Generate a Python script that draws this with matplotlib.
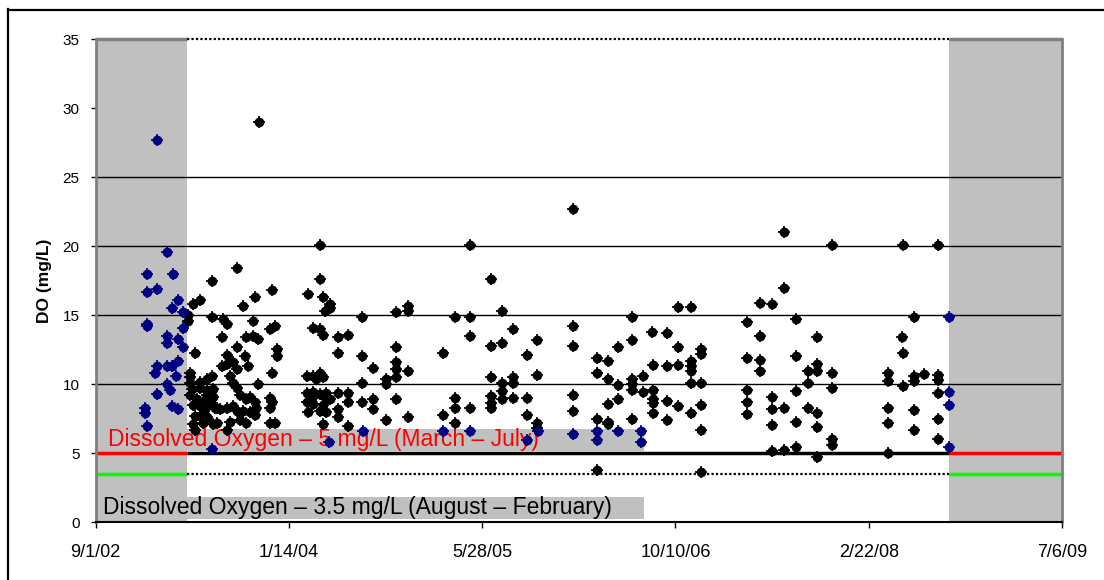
import matplotlib
matplotlib.use("Agg")
import matplotlib.pyplot as plt
from matplotlib.patches import Rectangle
from matplotlib.lines import Line2D
import numpy as np
import pandas as pd

plt.rcParams['font.family'] = ['Liberation Sans', 'DejaVu Sans']

# ---- data -------------------------------------------------------------
start_date = pd.Timestamp('2002-09-01')
end_date = pd.Timestamp('2009-07-06')

# sampling days (days after 9/1/02) and dissolved oxygen (mg/L)
blue_days = [158, 184, 132, 199, 132, 158, 214, 197, 225, 132, 132, 227, 184, 184,
             214, 227, 158, 153, 184, 197, 214, 209, 184, 192, 158, 128, 128, 197,
             214, 132, 300, 603, 692, 899, 968, 1115, 1144, 1235, 1296, 1296, 1351,
             1412, 1412, 2207, 2207, 2207, 2207]
blue_do = [27.7, 19.6, 18.0, 18.0, 16.7, 16.9, 16.1, 15.5, 15.2, 14.4, 14.2, 14.1, 13.5, 13.0,
           13.3, 12.7, 11.3, 10.85, 11.3, 11.3, 11.7, 10.6, 10.0, 9.6, 9.3, 8.3, 7.9, 8.4,
           8.2, 7.0, 5.3, 5.8, 6.65, 6.65, 6.65, 6.0, 6.65, 6.4, 6.65, 6.0, 6.65,
           6.65, 5.85, 14.85, 9.47, 8.5, 5.44]

black_days = [
    # 2003 - 2004
    423, 365, 300, 455, 412, 270, 252, 382, 239, 239, 300, 330, 339, 408, 464, 451,
    326, 390, 408, 420, 365, 468, 468, 257, 339, 386, 326, 339, 356, 365, 395, 347,
    455, 244, 244, 244, 287, 300, 270, 420, 248, 270, 287, 304, 356, 365, 244, 261,
    287, 304, 278, 373, 390, 399, 412, 451, 455, 451, 252, 270, 296, 313, 283, 309,
    321, 339, 356, 365, 382, 399, 416, 412, 257, 270, 287, 252, 278, 304, 313, 347,
    373, 390, 451, 464, 257, 339,
    # 2004 - 2005
    580, 968, 580, 550, 589, 606, 593, 606, 688, 778, 808, 808, 929, 968, 563, 580,
    589, 627, 653, 968, 778, 627, 688, 899, 718, 778, 778, 778, 808, 546, 563, 580,
    571, 589, 752, 752, 688, 546, 563, 580, 597, 559, 597, 627, 653, 546, 563, 589,
    606, 550, 580, 597, 627, 627, 653, 688, 718, 718, 778, 899, 929, 929, 968, 589,
    653, 752, 808, 929,
    # 2005 - 2007
    1234, 1024, 1050, 1080, 1024, 1050, 1143, 1115, 1235, 1235, 1296, 1296, 1326, 1326,
    1351, 1388, 1388, 1438, 1477, 1442, 1477, 1024, 1050, 1050, 1050, 1080, 1080, 1080,
    1143, 1024, 1024, 1024, 1115, 1115, 1143, 1143, 1235, 1235, 1296, 1326, 1326, 1326,
    1351, 1351, 1388, 1388, 1388, 1388, 1415, 1415, 1442, 1442, 1442, 1442, 1477, 1477,
    1296,
    # 2007 - 2008
    1781, 1905, 1781, 1507, 1539, 1718, 1751, 1686, 1811, 1718, 1866, 1507, 1565, 1565,
    1507, 1539, 1539, 1539, 1686, 1718, 1718, 1811, 1843, 1866, 1866, 1905, 1539, 1565,
    1843, 1905, 1686, 1811, 1507, 1539, 1565, 1565, 1565, 1686, 1686, 1751, 1751, 1751,
    1781, 1811, 1843, 1866, 1866, 1905, 1905, 1751, 1781, 1811, 1866,
    2088, 2179, 2117, 2087, 2088, 2051, 2051, 2117, 2117, 2142, 2179, 2179, 2088, 2179,
    2051, 2117, 2051, 2117, 2179, 2179, 2051,
]
black_do = [
    29.0, 18.4, 17.5, 16.8, 16.3, 16.1, 15.8, 15.7, 15.0, 14.6, 14.9, 14.7, 14.4, 14.6, 14.2, 14.0,
    13.4, 13.4, 13.5, 13.3, 12.7, 12.55, 12.06, 12.25, 12.1, 12.06, 11.3, 11.45, 11.6, 11.1, 11.3, 10.6,
    10.8, 10.85, 10.5, 10.1, 10.4, 10.6, 10.2, 10.0, 9.65, 9.7, 9.6, 9.65, 10.1, 9.76, 9.2, 8.95,
    9.2, 9.05, 8.7, 9.2, 8.95, 9.05, 8.7, 9.0, 8.7, 8.3, 8.5, 8.4, 8.7, 8.3, 8.2, 8.3,
    8.2, 8.3, 8.4, 8.1, 8.1, 8.0, 8.3, 7.8, 7.7, 7.7, 7.6, 7.1, 7.2, 7.1, 7.2, 7.3,
    7.4, 7.2, 7.2, 7.2, 6.7, 6.7,
    20.07, 20.07, 17.6, 16.55, 16.3, 15.8, 15.3, 15.5, 14.9, 15.2, 15.7, 15.3, 14.9, 14.9, 14.05, 14.0,
    13.6, 13.4, 13.6, 13.5, 12.7, 12.3, 12.06, 12.3, 11.2, 11.6, 11.1, 10.5, 10.97, 10.6, 10.6, 10.85,
    10.4, 10.5, 10.4, 10.0, 10.07, 9.4, 9.45, 9.3, 9.4, 9.0, 8.9, 9.4, 9.4, 8.7, 8.6, 8.5,
    8.9, 8.0, 8.1, 8.0, 8.2, 7.6, 8.7, 8.7, 8.9, 8.2, 8.9, 7.8, 9.0, 8.3, 8.25, 7.1,
    7.0, 7.4, 7.6, 7.2,
    22.7, 17.6, 15.3, 14.0, 12.8, 12.96, 13.2, 12.14, 14.2, 12.8, 11.9, 10.8, 11.7, 10.4,
    12.67, 14.85, 13.2, 13.76, 13.7, 11.4, 11.3, 10.56, 10.07, 9.5, 8.9, 10.56, 10.1, 9.0,
    10.65, 9.15, 8.67, 8.3, 8.98, 7.77, 7.2, 6.85, 9.22, 8.06, 7.5, 8.6, 7.3, 7.1,
    9.93, 8.9, 10.4, 10.0, 9.6, 7.5, 10.6, 9.44, 9.6, 8.9, 8.67, 7.94, 8.8, 7.45,
    3.76,
    21.0, 20.07, 16.96, 15.6, 15.6, 15.9, 15.8, 14.5, 14.7, 13.5, 13.4, 12.67, 12.55, 12.2,
    11.4, 11.7, 11.3, 10.97, 11.87, 11.77, 10.97, 12.06, 10.97, 11.5, 10.97, 10.8, 10.1, 10.1,
    10.1, 9.76, 9.59, 9.5, 8.4, 7.9, 8.5, 6.7, 3.65, 8.7, 7.87, 9.1, 8.2, 7.04,
    8.25, 7.3, 8.3, 7.94, 6.92, 6.05, 5.63, 5.15, 5.27, 5.47, 4.74,
    20.07, 20.07, 14.85, 13.4, 12.24, 10.85, 10.24, 10.6, 10.24, 10.73, 10.65, 10.3, 9.88, 9.4,
    8.25, 8.13, 7.2, 6.67, 7.5, 6.05, 5.03,
]

# seasonal shading (August - February) and dissolved oxygen criteria
winter_end_day = 235
winter_start_day = 2207
do_summer = 5.0
do_winter = 3.5
label_summer = "Dissolved Oxygen \u2013 5 mg/L (March \u2013 July)"
label_winter = "Dissolved Oxygen \u2013 3.5 mg/L (August \u2013 February)"
tick_step_days = 500

# ---- figure -----------------------------------------------------------
fig = plt.figure(figsize=(11.04, 5.80), dpi=100)
ax = fig.add_axes([95.7 / 1104, 57.6 / 580, 966.3 / 1104, 483.4 / 580])

to_dates = lambda d: start_date + pd.to_timedelta(np.asarray(d), unit='D')
winter_end = start_date + pd.Timedelta(days=winter_end_day)
winter_start = start_date + pd.Timedelta(days=winter_start_day)

gray = '#c0c0c0'
ax.axvspan(start_date, winter_end, color=gray, lw=0, zorder=0)
ax.axvspan(winter_start, end_date, color=gray, lw=0, zorder=0)

# horizontal grid
for yv in [10, 15, 20, 25]:
    ax.axhline(yv, color='black', lw=1.0, zorder=1)

# top edge: gray over the shaded periods, dotted across the rest
ax.hlines(35, start_date, winter_end, color='#808080', lw=2.5, zorder=2, clip_on=False)
ax.hlines(35, winter_start, end_date, color='#808080', lw=2.5, zorder=2, clip_on=False)
ax.hlines(35, winter_end, winter_start, color='black', lw=1.6, linestyles=(0, (1, 1)),
          zorder=2, clip_on=False)

# criteria lines
ax.hlines(do_summer, start_date, winter_end, color='#ff0000', lw=2.5, zorder=2)
ax.hlines(do_summer, winter_start, end_date, color='#ff0000', lw=2.5, zorder=2)
ax.hlines(do_summer, winter_end, winter_start, color='black', lw=2.5, zorder=2)
ax.hlines(do_winter, start_date, winter_end, color='#00ff00', lw=2.5, zorder=2)
ax.hlines(do_winter, winter_start, end_date, color='#00ff00', lw=2.5, zorder=2)
ax.hlines(do_winter, winter_end, winter_start, color='black', lw=1.6,
          linestyles=(0, (1, 1)), zorder=2)

# criteria labels on gray boxes
box_x0, box_x1 = 0.002, 0.567
ax.add_patch(Rectangle((box_x0, 0.148), box_x1 - box_x0, 0.045, transform=ax.transAxes,
                       facecolor=gray, edgecolor='none', zorder=3))
ax.add_patch(Rectangle((box_x0, 0.007), box_x1 - box_x0, 0.045, transform=ax.transAxes,
                       facecolor=gray, edgecolor='none', zorder=3))
ax.text(0.0125, 0.1705, label_summer, transform=ax.transAxes, color='#ff0000',
        fontsize=16.5, va='center', ha='left', zorder=4)
ax.text(0.0076, 0.0298, label_winter, transform=ax.transAxes, color='black',
        fontsize=16.5, va='center', ha='left', zorder=4)

# measurements: rounded diamond body with short spikes
def plot_points(days, vals, color):
    x = to_dates(days)
    ax.plot(x, vals, linestyle='none', marker='o', ms=7.0, color=color,
            markeredgewidth=0, zorder=5)
    ax.plot(x, vals, linestyle='none', marker='D', ms=5.4, color=color,
            markeredgewidth=0, zorder=5)
    ax.plot(x, vals, linestyle='none', marker='+', ms=8.5, color=color,
            markeredgewidth=1.2, zorder=5)

plot_points(black_days, black_do, 'black')
plot_points(blue_days, blue_do, '#000080')

# axes
ax.set_xlim(start_date, end_date)
ax.set_ylim(0, 35)
ax.set_yticks(range(0, 36, 5))
ticks = [start_date + pd.Timedelta(days=tick_step_days * i) for i in range(6)]
ax.set_xticks(ticks)
ax.set_xticklabels([f"{t.month}/{t.day}/{t.strftime('%y')}" for t in ticks])
ax.tick_params(axis='y', direction='out', length=3.5, width=1, pad=8, labelsize=11)
ax.tick_params(axis='x', direction='out', length=4.5, width=1, pad=11, labelsize=13)

for side in ['left', 'right']:
    ax.spines[side].set_color('#808080')
    ax.spines[side].set_linewidth(2)
ax.spines['top'].set_visible(False)
ax.spines['bottom'].set_color('black')
ax.spines['bottom'].set_linewidth(1.5)

ax.set_ylabel('DO (mg/L)', fontsize=12.5, fontweight='bold')
ax.yaxis.set_label_coords(-44 / 966.3, 0.5)

# outer frame
fig.add_artist(Line2D([7.5 / 1104, 7.5 / 1104], [0, 1 - 9 / 580], color='black', lw=1.6,
                      transform=fig.transFigure))
fig.add_artist(Line2D([7.5 / 1104, 1], [1 - 10 / 580, 1 - 10 / 580], color='black', lw=1.6,
                      transform=fig.transFigure))

fig.savefig('out.png', dpi=100)
